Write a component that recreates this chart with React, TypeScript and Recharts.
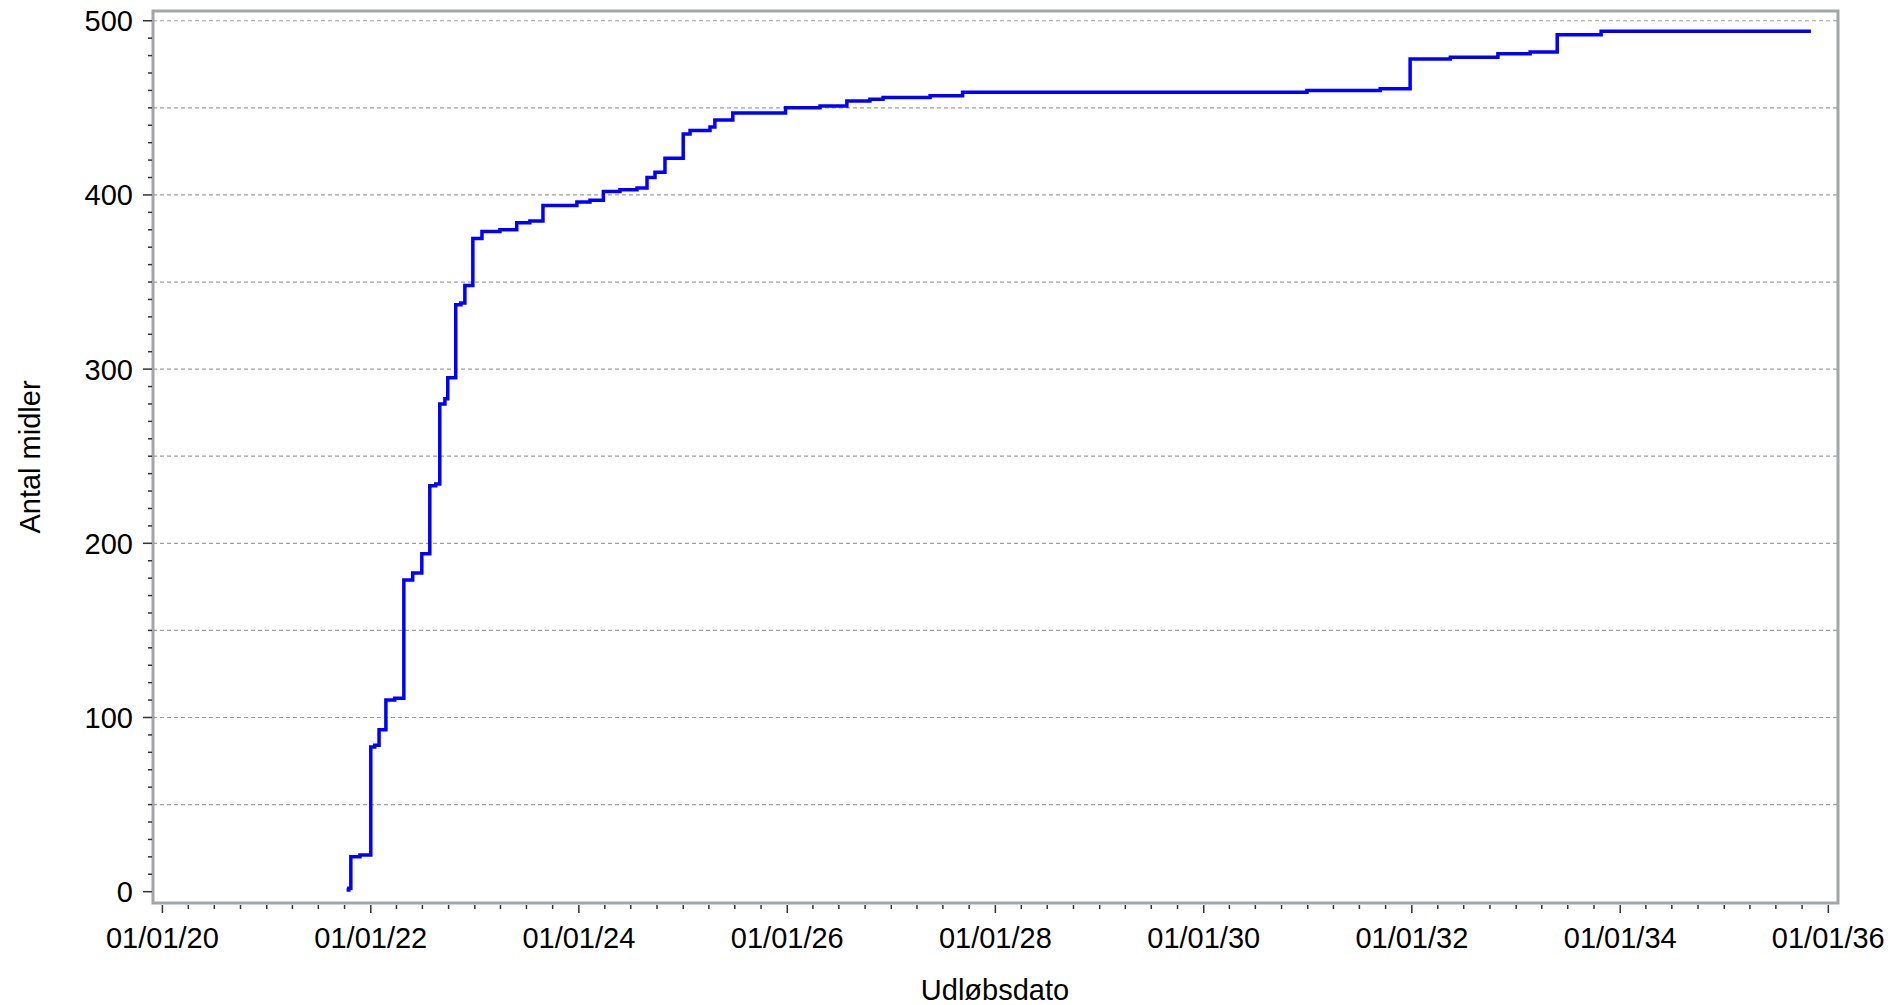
import { LineChart, Line, XAxis, YAxis, ReferenceLine, ReferenceArea } from 'recharts';

// expiry date of each step and the cumulative number of funds after it
const dates = [
  '2021-10-08', '2021-10-16', '2021-10-23', '2021-11-24', '2022-01-01', '2022-01-15',
  '2022-01-30', '2022-02-23', '2022-03-26', '2022-04-27', '2022-05-28', '2022-06-29',
  '2022-07-27', '2022-08-17', '2022-08-31', '2022-09-18', '2022-09-28', '2022-10-26',
  '2022-11-13', '2022-11-27', '2022-12-25', '2023-01-26', '2023-03-30', '2023-05-28',
  '2023-07-13', '2023-08-28', '2023-12-25', '2024-02-09', '2024-03-27', '2024-05-24',
  '2024-07-23', '2024-08-27', '2024-09-24', '2024-10-29', '2025-01-01', '2025-01-25',
  '2025-04-05', '2025-04-22', '2025-06-24', '2025-12-26', '2026-04-26', '2026-07-29',
  '2026-10-18', '2026-12-03', '2027-05-17', '2027-09-08', '2030-12-29', '2031-09-12',
  '2031-12-26', '2032-05-15', '2032-10-29', '2033-02-19', '2033-05-25', '2033-10-26',
  '2035-11-01',
];
const counts = [
  1, 2, 20, 21, 83, 84,
  93, 110, 111, 179, 183, 194,
  233, 234, 280, 283, 295, 337,
  338, 348, 375, 379, 380, 384,
  385, 394, 396, 397, 402, 403,
  404, 410, 413, 421, 435, 437,
  439, 443, 447, 450, 451, 454,
  455, 456, 457, 459, 460, 461,
  478, 479, 481, 482, 492, 494,
  494,
];

const xTickLabels = ['01/01/20', '01/01/22', '01/01/24', '01/01/26', '01/01/28', '01/01/30', '01/01/32', '01/01/34', '01/01/36'];
const yTickLabels = [0, 100, 200, 300, 400, 500];
const gridValues = [50, 100, 150, 200, 250, 300, 350, 400, 450, 500];

const DAY = 86400000;
const ts = (d: string) => Date.parse(d + 'T00:00:00Z');
const labelToTs = (l: string) => {
  const [mm, dd, yy] = l.split('/');
  return ts(`20${yy}-${mm}-${dd}`);
};

const data = dates.map((d, i) => ({ t: ts(d), count: counts[i] }));

const majorTicks = xTickLabels.map(labelToTs);
const quarterTicks: number[] = [];
for (let y = 2020; y < 2036; y++) {
  for (const m of ['01', '04', '07', '10']) quarterTicks.push(ts(`${y}-${m}-01`));
}
quarterTicks.push(ts('2036-01-01'));

const yTicks: number[] = [];
for (let v = 0; v <= 500; v += 10) yTicks.push(v);

const xDomain = [ts('2020-01-01') - 33 * DAY, ts('2036-01-01') + 34 * DAY];
const yDomain = [-6.5, 505.6];

const FONT = '"Liberation Sans", Arial, sans-serif';

const XTick = (props: any) => {
  const { x, y, payload } = props;
  const idx = majorTicks.indexOf(payload.value);
  const major = idx >= 0;
  return (
    <g>
      <line x1={x} x2={x} y1={y + 2} y2={y + (major ? 10 : 6)} stroke="#333" strokeWidth={1.5} />
      {major && (
        <text x={x} y={y + 45} textAnchor="middle" fontSize={29} fontFamily={FONT} fill="#000">
          {xTickLabels[idx]}
        </text>
      )}
    </g>
  );
};

const YTick = (props: any) => {
  const { x, y, payload } = props;
  const major = yTickLabels.includes(payload.value);
  return (
    <g>
      <line x1={x - 1} x2={x - (major ? 10 : 5)} y1={y} y2={y} stroke="#333" strokeWidth={1.5} />
      {major && (
        <text x={x - 20} y={y} dy={10.5} textAnchor="end" fontSize={29} fontFamily={FONT} fill="#000">
          {payload.value}
        </text>
      )}
    </g>
  );
};

const App = () => {
  return (
    <div style={{ position: 'absolute', left: 0, top: 0, width: 1901, height: 1005, fontFamily: FONT, background: '#fff' }}>
      <LineChart width={1901} height={1005} data={data} margin={{ top: 11, right: 63, bottom: 0, left: 0 }}>
        <XAxis
          dataKey="t"
          type="number"
          scale="linear"
          domain={xDomain}
          allowDataOverflow
          ticks={quarterTicks}
          interval={0}
          height={102}
          tickSize={0}
          tickMargin={0}
          tickLine={false}
          axisLine={false}
          tick={<XTick />}
        />
        <YAxis
          type="number"
          domain={yDomain}
          allowDataOverflow
          ticks={yTicks}
          interval={0}
          width={153}
          tickSize={0}
          tickMargin={0}
          tickLine={false}
          axisLine={false}
          tick={<YTick />}
        />
        {gridValues.map((v) => (
          <ReferenceLine key={v} y={v} stroke="#a0a0a0" strokeWidth={1.2} strokeDasharray="4 3" />
        ))}
        <Line
          type="stepAfter"
          dataKey="count"
          stroke="#0000ff"
          strokeWidth={3.5}
          dot={false}
          activeDot={false}
          isAnimationActive={false}
        />
        <ReferenceArea
          x1={xDomain[0]}
          x2={xDomain[1]}
          y1={yDomain[0]}
          y2={yDomain[1]}
          fill="none"
          fillOpacity={0}
          stroke="#a2a6a9"
          strokeWidth={3}
          ifOverflow="visible"
        />
      </LineChart>
      <div
        style={{
          position: 'absolute',
          left: 30,
          top: 457,
          transform: 'translate(-50%, -50%) rotate(-90deg)',
          whiteSpace: 'nowrap',
          fontSize: 29,
          color: '#000',
          lineHeight: 1,
        }}
      >
        Antal midler
      </div>
      <div
        style={{
          position: 'absolute',
          left: 995,
          top: 990,
          transform: 'translate(-50%, -50%)',
          whiteSpace: 'nowrap',
          fontSize: 29,
          color: '#000',
          lineHeight: 1,
        }}
      >
        Udløbsdato
      </div>
    </div>
  );
};

export default App;
